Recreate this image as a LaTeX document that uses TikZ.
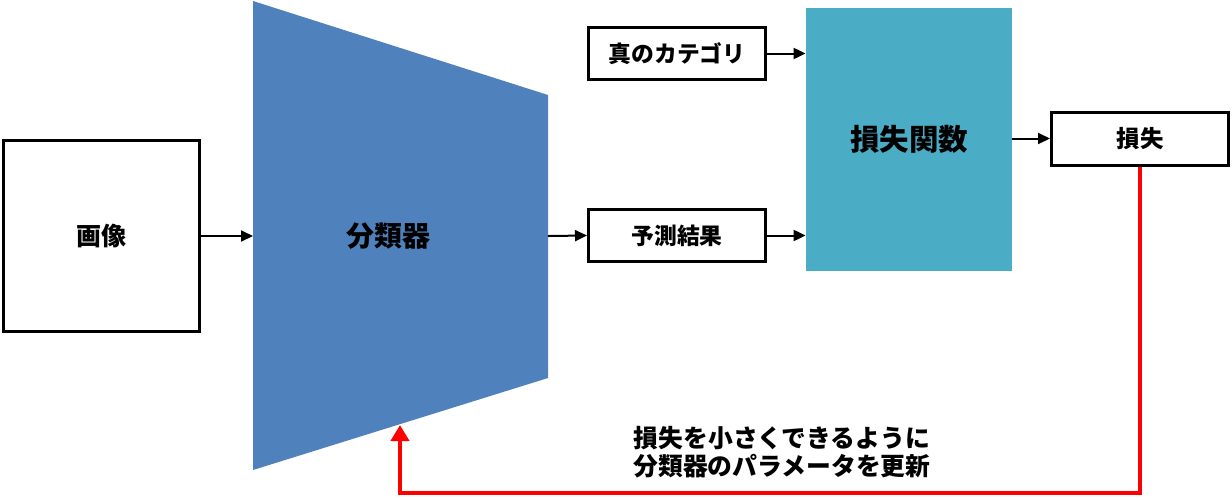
\documentclass[tikz,border=0pt]{standalone}
\usepackage{fontspec}
\setmainfont{Noto Sans CJK JP}
\usepackage{xcolor}
\usetikzlibrary{arrows.meta,positioning,calc}
\definecolor{clfblue}{HTML}{4F81BD}
\definecolor{lossteal}{HTML}{4BACC6}

\begin{document}
\begin{tikzpicture}[x=0.5pt,y=-0.5pt,
  box/.style={draw=black,line width=1.5pt,fill=white,minimum width=88.5pt,minimum height=26pt,inner sep=0pt,font=\bfseries\fontsize{11.4}{13}\selectfont},
  arr/.style={-{Triangle[length=6pt,width=5.5pt]},line width=1pt},
  fbk/.style={-{Triangle[length=8pt,width=9pt]},line width=2pt,draw=red}]
\useasboundingbox (0,0) rectangle (1232,499);
\node[box,minimum width=98pt,minimum height=95.5pt,font=\bfseries\fontsize{12.5}{14}\selectfont] (img) at (101.5,236) {画像};
\fill[clfblue] (253,1) -- (548,95) -- (548,378) -- (253,470) -- cycle;
\node[font=\bfseries\fontsize{14}{16}\selectfont] (clf) at (388,236) {分類器};
\coordinate (clfin) at (253,236); \coordinate (clfout) at (548,236);
\node[box] (pred) at (677,235.5) {予測結果};
\node[box] (truth) at (677,53.5) {真のカテゴリ};
\node[fill=lossteal,minimum width=103pt,minimum height=131.5pt,inner sep=0pt,font=\bfseries\fontsize{14.75}{16}\selectfont] (lossfn) at (909,139.5) {損失関数};
\node[box,minimum height=26.5pt,font=\bfseries\fontsize{11.75}{13}\selectfont] (loss) at (1140,138.5) {損失};
\draw[arr] (img.east |- clfin) -- (clfin); \draw[arr] (clfout) -- (pred.west);
\draw[arr] (truth.east) -- (truth.east -| lossfn.west); \draw[arr] (pred.east) -- (pred.east -| lossfn.west);
\draw[arr] (lossfn.east |- loss.west) -- (loss.west);
\coordinate (upd) at (400,425);
\draw[fbk] (loss.south) -- ($(loss.south |- 0,493)$) -| (upd);
\node[align=center,font=\bfseries\fontsize{12.4}{14}\selectfont] (note) at (782,452) {損失を小さくできるように\\分類器のパラメータを更新};
\end{tikzpicture}
\end{document}
